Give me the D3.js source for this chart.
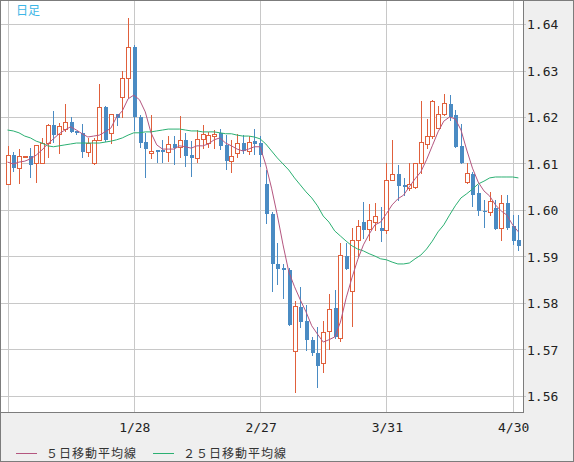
<!DOCTYPE html>
<head>
  <meta charset="utf-8">
  <script src="https://cdn.jsdelivr.net/npm/d3@7"></script>
  <style>
    body { margin:0; background:#efefef; }
    svg { display:block; }
  </style>
</head>
<body>
<script>
  let width = 574, height = 462;

  // daily candles, index 0 .. 89
  const opens = [1.6056,1.6118,1.6090,1.6114,1.6116,1.6101,1.6101,1.6144,1.6183,1.6164,
    1.6174,1.6189,1.6170,1.6166,1.6125,1.6101,1.6151,1.6222,1.6166,1.6207,
    1.6243,1.6284,1.6351,1.6200,1.6146,1.6123,1.6129,1.6129,1.6125,1.6142,
    1.6136,1.6151,1.6118,1.6112,1.6153,1.6144,1.6159,1.6166,1.6140,1.6105,
    1.6123,1.6144,1.6127,1.6148,1.6144,1.6056,1.5992,1.5884,1.5875,1.5871,
    1.5697,1.5792,1.5761,1.5721,1.5693,1.5671,1.5740,1.5789,1.5725,1.5901,
    1.5826,1.5936,1.5974,1.5959,1.5974,1.5961,1.5957,1.6065,1.6077,1.6054,
    1.6047,1.6050,1.6101,1.6142,1.6159,1.6176,1.6207,1.6228,1.6204,1.6138,
    1.6060,1.6077,1.6037,1.5998,1.5996,1.6004,1.5961,1.6015,1.5966,1.5936];
  const highs = [1.6138,1.6125,1.6131,1.6116,1.6133,1.6140,1.6155,1.6185,1.6213,1.6187,
    1.6228,1.6200,1.6170,1.6185,1.6155,1.6155,1.6271,1.6224,1.6207,1.6207,
    1.6299,1.6413,1.6355,1.6204,1.6166,1.6204,1.6129,1.6151,1.6159,1.6159,
    1.6202,1.6166,1.6148,1.6172,1.6183,1.6168,1.6172,1.6174,1.6161,1.6151,
    1.6164,1.6161,1.6159,1.6174,1.6159,1.6086,1.5996,1.5929,1.5884,1.5875,
    1.5804,1.5835,1.5796,1.5727,1.5749,1.5761,1.5820,1.5828,1.5929,1.5929,
    1.5961,1.5979,1.6017,1.6013,1.6015,1.6007,1.6101,1.6151,1.6097,1.6069,
    1.6101,1.6101,1.6234,1.6196,1.6237,1.6224,1.6250,1.6247,1.6215,1.6185,
    1.6101,1.6082,1.6054,1.6022,1.6039,1.6022,1.6032,1.6032,1.5989,1.5989];
  const lows = [1.6056,1.6084,1.6058,1.6114,1.6071,1.6060,1.6101,1.6114,1.6146,1.6123,
    1.6170,1.6168,1.6164,1.6114,1.6116,1.6099,1.6151,1.6148,1.6144,1.6183,
    1.6200,1.6243,1.6172,1.6136,1.6071,1.6112,1.6103,1.6103,1.6105,1.6099,
    1.6114,1.6095,1.6073,1.6103,1.6133,1.6136,1.6133,1.6131,1.6088,1.6082,
    1.6114,1.6123,1.6121,1.6121,1.6095,1.5972,1.5826,1.5841,1.5811,1.5753,
    1.5609,1.5749,1.5699,1.5688,1.5620,1.5652,1.5701,1.5725,1.5718,1.5873,
    1.5751,1.5899,1.5940,1.5936,1.5957,1.5933,1.5951,1.6065,1.6022,1.6032,
    1.6043,1.6047,1.6080,1.6133,1.6155,1.6176,1.6204,1.6194,1.6136,1.6101,
    1.6058,1.6009,1.5989,1.5964,1.5989,1.5959,1.5936,1.5959,1.5927,1.5914];
  const closes = [1.6118,1.6090,1.6116,1.6116,1.6097,1.6140,1.6144,1.6183,1.6161,1.6181,
    1.6189,1.6168,1.6166,1.6125,1.6144,1.6151,1.6222,1.6151,1.6207,1.6198,
    1.6284,1.6351,1.6200,1.6144,1.6131,1.6127,1.6125,1.6125,1.6142,1.6133,
    1.6151,1.6116,1.6112,1.6153,1.6164,1.6161,1.6164,1.6138,1.6105,1.6116,
    1.6144,1.6127,1.6146,1.6142,1.6118,1.5992,1.5884,1.5873,1.5871,1.5753,
    1.5794,1.5759,1.5721,1.5693,1.5665,1.5738,1.5787,1.5727,1.5903,1.5873,
    1.5936,1.5966,1.5957,1.5979,1.5987,1.5955,1.6065,1.6077,1.6052,1.6050,
    1.6056,1.6101,1.6146,1.6159,1.6234,1.6207,1.6230,1.6200,1.6136,1.6101,
    1.6080,1.6032,1.5998,1.5996,1.6019,1.5959,1.6015,1.5961,1.5933,1.5923];

  // moving averages as plotted
  const ma5 = [1.6103,1.6099,1.6103,1.6105,1.6110,1.6118,1.6129,1.6142,1.6153,1.6164,
    1.6172,1.6179,1.6172,1.6164,1.6157,1.6159,1.6161,1.6168,1.6176,1.6200,
    1.6213,1.6239,1.6247,1.6237,1.6211,1.6166,1.6140,1.6131,1.6131,1.6131,
    1.6138,1.6136,1.6133,1.6138,1.6138,1.6142,1.6151,1.6155,1.6144,1.6138,
    1.6131,1.6127,1.6131,1.6136,1.6136,1.6097,1.6047,1.5989,1.5925,1.5867,
    1.5835,1.5807,1.5781,1.5751,1.5733,1.5716,1.5721,1.5727,1.5759,1.5811,
    1.5854,1.5893,1.5925,1.5948,1.5968,1.5974,1.5992,1.6011,1.6024,1.6032,
    1.6050,1.6067,1.6082,1.6108,1.6138,1.6168,1.6191,1.6200,1.6196,1.6172,
    1.6129,1.6090,1.6060,1.6041,1.6030,1.6011,1.5998,1.5989,1.5968,1.5953];
  const ma25 = [1.6172,1.6170,1.6166,1.6159,1.6155,1.6148,1.6144,1.6138,1.6136,1.6138,
    1.6140,1.6142,1.6144,1.6144,1.6144,1.6144,1.6144,1.6146,1.6148,1.6151,
    1.6155,1.6161,1.6166,1.6166,1.6168,1.6168,1.6170,1.6172,1.6174,1.6174,
    1.6174,1.6172,1.6170,1.6170,1.6168,1.6168,1.6168,1.6166,1.6164,1.6164,
    1.6161,1.6159,1.6159,1.6157,1.6153,1.6142,1.6127,1.6112,1.6099,1.6086,
    1.6069,1.6054,1.6039,1.6026,1.6009,1.5987,1.5974,1.5955,1.5944,1.5933,
    1.5923,1.5916,1.5912,1.5906,1.5901,1.5895,1.5893,1.5888,1.5884,1.5884,
    1.5886,1.5895,1.5903,1.5916,1.5933,1.5953,1.5968,1.5989,1.6009,1.6026,
    1.6035,1.6045,1.6056,1.6062,1.6069,1.6071,1.6071,1.6071,1.6071,1.6069];

  const yTicks = [1.56, 1.57, 1.58, 1.59, 1.60, 1.61, 1.62, 1.63, 1.64];
  const xTickIdx = [0, 22, 44, 66, 88];
  const xTickLabels = ["", "1/28", "2/27", "3/31", "4/30"];
  const legendLabels = ["５日移動平均線", "２５日移動平均線"];

  const upColor = "#e0603c", downColor = "#4a8bc3",
        ma5Color = "#b4567f", ma25Color = "#2bb072",
        gridColor = "#c8c8c8", frameColor = "#7c7c7c";

  let plotR = 523, plotB = 412;

  let svg = d3.select("body").append("svg")
    .attr("width", width).attr("height", height)
    .attr("shape-rendering", "crispEdges");

  svg.append("rect").attr("width", width).attr("height", height).attr("fill", "#efefef");
  svg.append("rect").attr("x", 1).attr("y", 1)
    .attr("width", plotR - 1).attr("height", plotB - 1).attr("fill", "#fff");

  let x = d3.scaleLinear().domain([0, 89]).range([7.5, 518.4]);
  let y = d3.scaleLinear().domain([1.56, 1.64]).range([396, 24]);

  svg.append("clipPath").attr("id", "clip")
    .append("rect").attr("x", 1).attr("y", 1).attr("width", plotR - 1).attr("height", plotB - 1);

  // grid
  let grid = svg.append("g").attr("stroke", gridColor).attr("stroke-width", 1);
  grid.selectAll(".hg").data(yTicks).enter().append("line")
    .attr("x1", 1).attr("x2", plotR + 3)
    .attr("y1", d => Math.round(y(d)) + 0.5).attr("y2", d => Math.round(y(d)) + 0.5);
  grid.selectAll(".vg").data(xTickIdx).enter().append("line")
    .attr("y1", 1).attr("y2", plotB)
    .attr("x1", d => Math.round(x(d)) + 0.5).attr("x2", d => Math.round(x(d)) + 0.5);

  let plot = svg.append("g").attr("clip-path", "url(#clip)");

  // candles
  let idx = d3.range(opens.length);
  let candle = plot.selectAll(".c").data(idx).enter().append("g");
  candle.append("line")
    .attr("x1", i => Math.round(x(i)) + 0.5).attr("x2", i => Math.round(x(i)) + 0.5)
    .attr("y1", i => Math.round(y(highs[i]))).attr("y2", i => Math.round(y(lows[i])) + 1)
    .attr("stroke", i => closes[i] >= opens[i] ? upColor : downColor);
  candle.append("rect")
    .attr("x", i => closes[i] >= opens[i] ? Math.round(x(i)) - 1.5 : Math.round(x(i)) - 1)
    .attr("y", i => Math.round(y(Math.max(opens[i], closes[i]))) + (closes[i] >= opens[i] ? 0.5 : 0))
    .attr("width", i => closes[i] >= opens[i] ? 4 : 4)
    .attr("height", i => Math.max(1, Math.round(Math.abs(y(opens[i]) - y(closes[i])))))
    .attr("fill", i => closes[i] >= opens[i] ? "#fff" : downColor)
    .attr("stroke", i => closes[i] >= opens[i] ? upColor : "none");

  // moving averages
  let line = d3.line().x((d, i) => x(i)).y(d => y(d));
  plot.append("path").datum(ma25).attr("d", line)
    .attr("fill", "none").attr("stroke", ma25Color).attr("stroke-width", 1)
    .attr("shape-rendering", "auto");
  plot.append("path").datum(ma5).attr("d", line)
    .attr("fill", "none").attr("stroke", ma5Color).attr("stroke-width", 1)
    .attr("shape-rendering", "auto");

  // frame
  svg.append("line").attr("x1", plotR + 0.5).attr("x2", plotR + 0.5).attr("y1", 0).attr("y2", plotB + 1)
    .attr("stroke", frameColor);
  svg.append("line").attr("x1", 0).attr("x2", plotR + 1).attr("y1", plotB + 0.5).attr("y2", plotB + 0.5)
    .attr("stroke", frameColor);
  svg.append("rect").attr("x", 0.5).attr("y", 0.5).attr("width", width - 1).attr("height", height - 1)
    .attr("fill", "none").attr("stroke", frameColor);

  // y labels
  svg.selectAll(".yl").data(yTicks).enter().append("text")
    .attr("x", 527).attr("y", d => y(d) + 5)
    .style("font", "13px 'DejaVu Sans Mono'").attr("fill", "#222")
    .text(d => d3.format(".2f")(d));

  // x labels
  svg.selectAll(".xl").data(xTickIdx).enter().append("text")
    .attr("x", d => x(d) + 1).attr("y", 432)
    .attr("text-anchor", "middle")
    .style("font", "13px 'DejaVu Sans Mono'").attr("fill", "#222")
    .text((d, i) => xTickLabels[i]);

  // title
  svg.append("text").attr("x", 16).attr("y", 15)
    .style("font", "12px 'Noto Sans CJK JP'").attr("fill", "#3db6e6")
    .text("日足");

  // legend
  let legend = svg.selectAll(".legend").data(legendLabels).enter().append("g")
    .attr("transform", (d, i) => "translate(" + [16, 153][i] + ",453)");
  legend.append("line").attr("x1", 0).attr("x2", 21).attr("y1", 0.5).attr("y2", 0.5)
    .attr("stroke", (d, i) => [ma5Color, ma25Color][i]);
  legend.append("text").attr("x", 30).attr("y", 5)
    .style("font", "12px 'Noto Sans CJK JP'").style("letter-spacing", "1px")
    .attr("fill", "#333")
    .text(d => d);
</script>
</body>
